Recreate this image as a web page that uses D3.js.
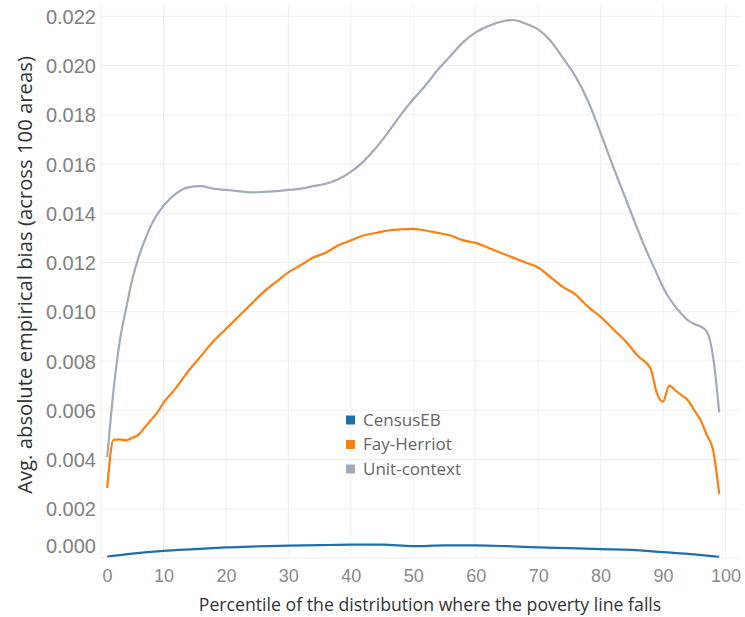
<!DOCTYPE html>
<html>
<head>
<meta charset="utf-8">
<script src="https://cdn.jsdelivr.net/npm/d3@7"></script>
<style>
  html, body { margin: 0; padding: 0; background: #fff; }
  svg { display: block; font-family: Lato, "Open Sans", sans-serif; }
</style>
</head>
<body>
<svg id="chart" width="745" height="617"></svg>
<script>
// ---- Data ----
const seriesNames = ["CensusEB", "Fay-Herriot", "Unit-context"];
const seriesColors = ["#1f6fad", "#ff7f0e", "#a3abb9"];

const censusX = [1, 5, 10, 15, 20, 25, 30, 35, 40, 45, 50, 55, 60, 65, 70, 75, 80, 85, 90, 95, 99];
const censusY = [0.00006, 0.00018, 0.00029, 0.00036, 0.00043, 0.00047, 0.00050, 0.00052, 0.00054, 0.00054,
                 0.00048, 0.00051, 0.00051, 0.00048, 0.00043, 0.00040, 0.00036, 0.00033, 0.00024, 0.00015, 0.00005];

const fayX = [1, 2, 3, 4, 5, 6, 7, 8, 9, 10, 12, 14, 16, 18, 20, 22, 24, 26, 28, 30, 32, 34, 36, 38, 40,
              42, 44, 46, 48, 50, 52, 54, 56, 58, 60, 62, 64, 66, 68, 70, 72, 74, 76, 78, 80, 82, 84, 86,
              88, 89, 90, 91, 92, 93, 94, 95, 96, 97, 98, 99];
const fayY = [0.00285, 0.0048, 0.00482, 0.00478, 0.00488, 0.0050, 0.0053, 0.0056, 0.0059, 0.0063,
              0.0069, 0.0076, 0.0082, 0.0088, 0.0093, 0.0098, 0.0103, 0.0108, 0.0112, 0.0116,
              0.0119, 0.0122, 0.0124, 0.0127, 0.0129, 0.0131, 0.0132, 0.0133, 0.01335, 0.01337,
              0.0133, 0.0132, 0.0131, 0.0129, 0.0128, 0.0126, 0.0124, 0.0122, 0.0120, 0.0118,
              0.0114, 0.0110, 0.0107, 0.0102, 0.0098, 0.0093, 0.0088, 0.0082,
              0.0077, 0.0067, 0.00635, 0.0070, 0.0068, 0.0066, 0.0064, 0.0060, 0.0056, 0.0050, 0.0044, 0.0026];

const unitX = [1, 2, 3, 4, 5, 6, 7, 8, 10, 12, 14, 16, 18, 20, 22, 24, 26, 28, 30, 32, 34, 36, 38, 40,
               42, 44, 46, 48, 50, 52, 54, 56, 58, 60, 62, 64, 66, 68, 70, 72, 74, 76, 78, 80, 82, 84,
               86, 88, 89, 90, 91, 92, 93, 94, 95, 96, 97, 98, 99];
const unitY = [0.0041, 0.0068, 0.0088, 0.0101, 0.0113, 0.0122, 0.0129, 0.0135, 0.0143, 0.0148, 0.01505,
               0.0151, 0.0150, 0.01495, 0.0149, 0.01485, 0.01487, 0.0149, 0.01495, 0.0150, 0.0151,
               0.0152, 0.01538, 0.01568, 0.0161, 0.01665, 0.0173, 0.0180, 0.01863, 0.0192, 0.01985,
               0.0204, 0.02095, 0.02135, 0.0216, 0.02178, 0.02185, 0.0217, 0.02147, 0.0210, 0.0203,
               0.01955, 0.01855, 0.01727, 0.0159, 0.0146, 0.0133, 0.0121, 0.01155, 0.0110, 0.01055,
               0.0102, 0.0099, 0.00965, 0.0095, 0.0094, 0.0092, 0.0082, 0.0059];

const xTicks = [0, 10, 20, 30, 40, 50, 60, 70, 80, 90, 100];
const yTicks = [0, 0.002, 0.004, 0.006, 0.008, 0.010, 0.012, 0.014, 0.016, 0.018, 0.020, 0.022];

const xTitle = "Percentile of the distribution where the poverty line falls";
const yTitle = "Avg. absolute empirical bias (across 100 areas)";

// ---- Layout ----
const svg = d3.select("#chart");
const plot = { left: 101, right: 740, top: 4, bottom: 558 };

const x = d3.scaleLinear().domain([0, 100]).range([plot.left, 725.5]);
const y = d3.scaleLinear().domain([0, 0.0225]).range([plot.bottom, plot.top]);

// gridlines
const grid = svg.append("g");
grid.selectAll("line.h").data(yTicks).enter().append("line")
  .attr("x1", plot.left).attr("x2", plot.right)
  .attr("y1", d => y(d)).attr("y2", d => y(d))
  .attr("stroke", "#efefef").attr("stroke-width", 1);
grid.selectAll("line.v").data(xTicks).enter().append("line")
  .attr("x1", d => x(d)).attr("x2", d => x(d))
  .attr("y1", plot.top).attr("y2", plot.bottom)
  .attr("stroke", "#efefef").attr("stroke-width", 1);

// y axis
const yAxis = d3.axisLeft(y).tickValues(yTicks).tickFormat(d3.format(".3f")).tickSize(0).tickPadding(0);
const gy = svg.append("g").attr("transform", `translate(96,0)`).call(yAxis);
gy.select(".domain").remove();
gy.selectAll("text")
  .attr("fill", "#7f7f7f").style("font-size", "20px")
  .attr("dy", "0.35em")
  .attr("y", d => d === 0 ? -13 : 0);

// x axis
const xAxis = d3.axisBottom(x).tickValues(xTicks).tickFormat(d3.format("d")).tickSize(0).tickPadding(0);
const gx = svg.append("g").attr("transform", `translate(0,576)`).call(xAxis);
gx.select(".domain").remove();
gx.selectAll("text")
  .attr("fill", "#8a8a8a").style("font-size", "18px")
  .attr("dy", "0.35em").attr("y", 0)
  .attr("x", d => d === 0 ? 6 : 0);

// axis titles
svg.append("text")
  .attr("transform", `translate(32,275) rotate(-90)`)
  .attr("text-anchor", "middle")
  .attr("fill", "#333").style("font-family", "'Open Sans', sans-serif").style("font-size", "20.3px")
  .text(yTitle);
svg.append("text")
  .attr("x", 430).attr("y", 611)
  .attr("text-anchor", "middle")
  .attr("fill", "#333").style("font-family", "'Open Sans', sans-serif").style("font-size", "17.7px")
  .text(xTitle);

// lines
const line = d3.line().x(d => x(d[0])).y(d => y(d[1])).curve(d3.curveMonotoneX);
const series = [
  d3.zip(censusX, censusY),
  d3.zip(fayX, fayY),
  d3.zip(unitX, unitY)
];
svg.append("g").selectAll("path").data(series).enter().append("path")
  .attr("d", line)
  .attr("fill", "none")
  .attr("stroke", (d, i) => seriesColors[i])
  .attr("stroke-width", 2.2)
  .attr("stroke-linejoin", "round");

// legend
const lg = svg.append("g");
const rows = lg.selectAll("g").data(seriesNames).enter().append("g")
  .attr("transform", (d, i) => `translate(346,${420 + i * 24.5})`);
rows.append("rect").attr("x", 0).attr("y", -4.5).attr("width", 9).attr("height", 9)
  .attr("fill", (d, i) => seriesColors[i]);
rows.append("text").attr("x", 17).attr("dy", "0.35em")
  .attr("fill", "#666").style("font-family", "'Open Sans', sans-serif").style("font-size", "17px")
  .text(d => d);
</script>
</body>
</html>
